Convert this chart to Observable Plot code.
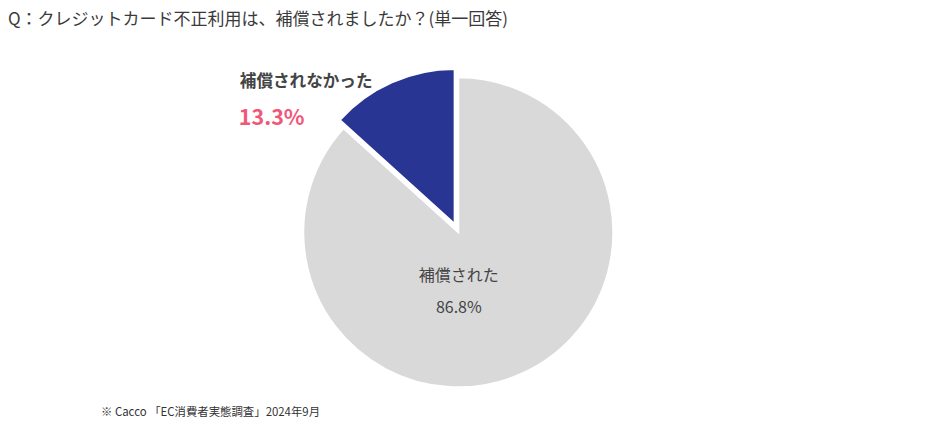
<!DOCTYPE html>
<html>
<head>
<meta charset="utf-8">
<script src="https://cdn.jsdelivr.net/npm/d3@7"></script>
<script src="https://cdn.jsdelivr.net/npm/@observablehq/plot@0.6"></script>
<style>
  html, body { margin: 0; padding: 0; background: #fff; }
  body { width: 937px; height: 427px; overflow: hidden; font-family: "Noto Sans CJK JP", "Noto Sans", sans-serif; }
  #title { height: 40px; box-sizing: border-box; padding: 6px 0 0 8px; font-size: 17px; color: #3a3a3a; line-height: 24px; white-space: nowrap; }
  #chart svg { display: block; }
  #caption { padding: 2px 0 0 101px; font-size: 11.4px; color: #333; line-height: 18px; white-space: nowrap; }
</style>
</head>
<body>
<div id="title"></div>
<div id="chart"></div>
<div id="caption"></div>
<script>
const titleText = "Q：クレジットカード不正利用は、補償されましたか？(単一回答)";
const captionText = "※ Cacco 「EC消費者実態調査」2024年9月";
const categories = ["補償された", "補償されなかった"];
const values = [86.8, 13.3];
const valueLabels = ["86.8%", "13.3%"];
const sliceColors = ["#d9d9d9", "#283593"];

document.getElementById("title").textContent = titleText;
document.getElementById("caption").textContent = captionText;

const slices = categories.map((c, i) => ({category: c, value: values[i], label: valueLabels[i], color: sliceColors[i], i}));
const explodeIndex = 1;
const explode = 9;

const pieMark = Plot.dot(slices, {
  x: () => 0, y: () => 0,
  render(index, scales, vals, dimensions) {
    const cx = scales.x(0), cy = scales.y(0);
    const r = scales.x(1) - scales.x(0);
    const arcs = d3.pie().sort(null).value(d => d.value)(slices);
    const arc = d3.arc().innerRadius(0).outerRadius(r);
    const g = d3.create("svg:g");
    g.selectAll("path").data(arcs).join("path")
      .attr("transform", a => {
        const off = a.data.i === explodeIndex ? explode : 0;
        const m = (a.startAngle + a.endAngle) / 2;
        return `translate(${cx + off * Math.sin(m)},${cy - off * Math.cos(m)})`;
      })
      .attr("d", arc)
      .attr("fill", a => a.data.color)
      .attr("stroke", "#fff")
      .attr("stroke-width", 2)
      .attr("stroke-linejoin", "miter");
    return g.node();
  }
});

const chart = Plot.plot({
  width: 937,
  height: 360,
  marginLeft: 303.3,
  marginRight: 323.7,
  marginTop: 37.3,
  marginBottom: 12.7,
  x: {domain: [-1, 1], axis: null},
  y: {domain: [-1, 1], axis: null},
  style: {fontFamily: "'Noto Sans CJK JP', 'Noto Sans', sans-serif", background: "#fff", overflow: "visible"},
  marks: [
    pieMark,
    // large slice labels (centered)
    Plot.text([slices[0]], {x: () => 0, y: () => 0, text: d => d.category, dy: 43, fontSize: 16, fill: "#444", textAnchor: "middle"}),
    Plot.text([slices[0]], {x: () => 0, y: () => 0, text: d => d.label, dy: 75, fontSize: 16, fill: "#444", textAnchor: "middle"}),
    // small slice labels (upper-left)
    Plot.text([slices[1]], {x: () => 0, y: () => 0, text: d => d.category, dx: -219, dy: -151, fontSize: 16.6, fontWeight: "bold", fill: "#444", textAnchor: "start"}),
    Plot.text([slices[1]], {x: () => 0, y: () => 0, text: d => d.label, dx: -220, dy: -115, fontSize: 21.5, fontWeight: "bold", fill: "#f0587a", textAnchor: "start"})
  ]
});
document.getElementById("chart").appendChild(chart);
</script>
</body>
</html>
